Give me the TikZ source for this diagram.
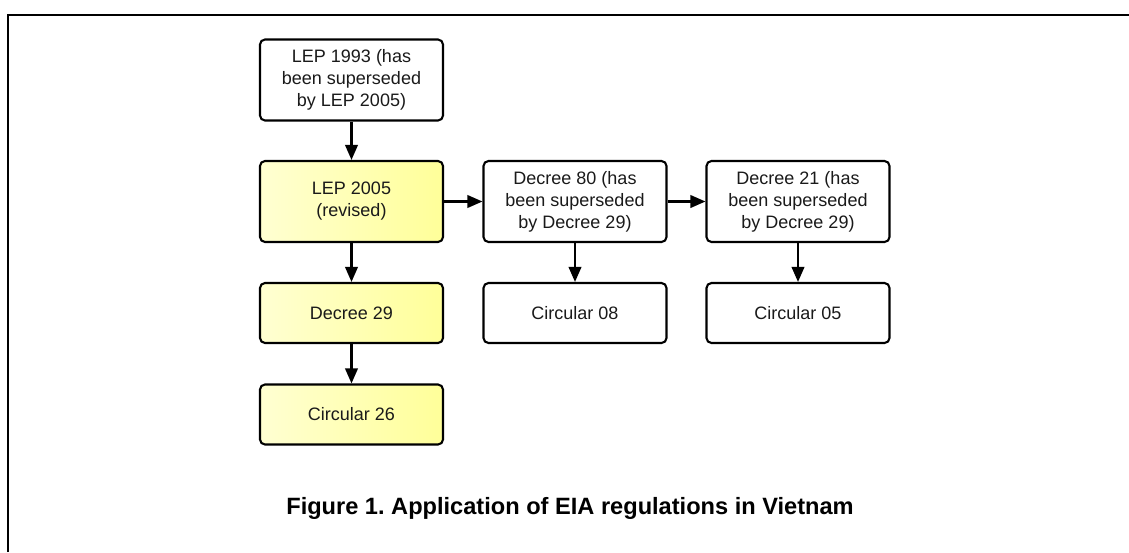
\documentclass[tikz,border=0pt]{standalone}
\usepackage{fontspec}
\setmainfont{Liberation Sans}
\usetikzlibrary{arrows.meta}
\definecolor{yelL}{HTML}{FFFFD2}
\definecolor{yelR}{HTML}{FFFF99}
\definecolor{txt}{HTML}{1A1A1A}
\frenchspacing
\tikzset{
  box/.style={draw=black, line width=2.1pt, rounded corners=5pt, fill=white,
    minimum width=183pt, align=center, text=txt,
    font=\fontsize{18}{22}\selectfont, inner sep=0pt},
  tall/.style={minimum height=81pt},
  short/.style={minimum height=60pt},
  yel/.style={left color=yelL, right color=yelR},
  link/.style={line width=2.2pt, -{Triangle[length=15pt,width=12.5pt]}},
}
\begin{document}
\begin{tikzpicture}[x=1pt,y=-1pt]
\useasboundingbox (0,0) rectangle (1129,552);
\draw[line width=2.6pt] (8,552) -- (8,15) -- (1129,15);
\node[box,tall] (lep93) at (351.5,80) {LEP 1993 (has\\been superseded\\by LEP 2005)};
\node[box,tall,yel] (lep05) at (351.5,201.5) {LEP 2005\\(revised)};
\node[box,short,yel] (d29) at (351.5,313) {Decree 29};
\node[box,short,yel] (c26) at (351.5,414.5) {Circular 26};
\node[box,tall] (d80) at (575,201.5) {Decree 80 (has\\been superseded\\by Decree 29)};
\node[box,tall] (d21) at (798,201.5) {Decree 21 (has\\been superseded\\by Decree 29)};
\node[box,short] (c08) at (575,313) {Circular 08};
\node[box,short] (c05) at (798,313) {Circular 05};
\draw[link] (lep93) -- (lep05);
\draw[link] (lep05) -- (d29);
\draw[link] (d29) -- (c26);
\draw[link] (lep05) -- (d80);
\draw[link] (d80) -- (d21);
\draw[link] (d80) -- (c08);
\draw[link] (d21) -- (c05);
\node[font=\fontsize{23.6}{28}\selectfont\bfseries, anchor=base, inner sep=0pt] (cap) at (570,514) {Figure 1. Application of EIA regulations in Vietnam};
\end{tikzpicture}
\end{document}
